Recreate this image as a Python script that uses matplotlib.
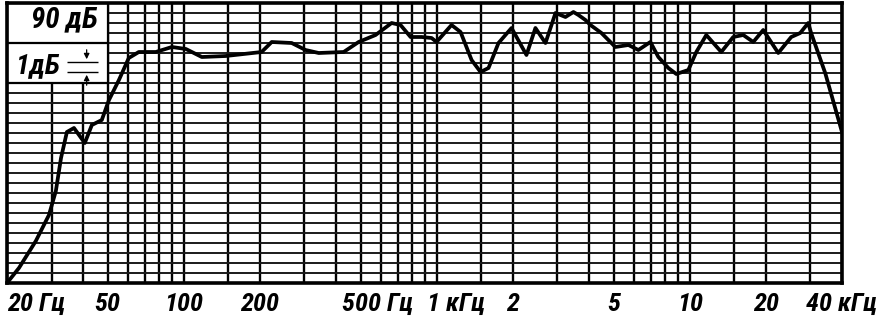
import numpy as np
import matplotlib
matplotlib.use("Agg")
import matplotlib.pyplot as plt
from matplotlib.patches import Rectangle

freq_hz = [20, 22.3, 26.0, 29.3, 31.2, 32.7, 34.5, 36.8, 40.6, 43.3, 47.4, 50.6,
           55.4, 60.6, 66.4, 77.5, 89.7, 101.9, 117.8, 146.5, 203, 222.6, 267,
           303, 341.5, 428.5, 491, 573, 663, 719, 788, 871, 954, 998, 1144, 1242,
           1373, 1490, 1602, 1754, 1975, 2263, 2455, 2690, 2947, 3227, 3470,
           3631, 3870, 4051, 4477, 5082, 5723, 6267, 6990, 7516, 8233, 8851,
           9874, 10620, 11630, 13330, 14860, 16280, 17840, 19530, 22390, 25200,
           27350, 29410, 30200, 34330, 40000]
level_db = [62.0, 63.5, 66.2, 68.8, 71.2, 74.5, 77.1, 77.5, 76.0, 77.8, 78.3, 80.3,
            82.3, 84.5, 85.1, 85.1, 85.6, 85.4, 84.6, 84.7, 85.1, 86.1, 86.0,
            85.3, 85.0, 85.1, 86.1, 86.8, 88.0, 87.8, 86.6, 86.6, 86.5, 86.1, 87.8, 87.1,
            84.3, 83.1, 83.5, 86.0, 87.5, 84.8, 87.5, 86.0, 89.0, 88.6, 89.1,
            88.8, 88.3, 87.8, 87.0, 85.6, 85.8, 85.3, 86.1, 84.6, 83.5, 82.9,
            83.3, 85.1, 86.8, 85.1, 86.6, 86.8, 86.1, 87.3, 85.0, 86.6,
            87.0, 88.0, 87.0, 83.0, 77.1]

# сетка бумаги
grid_freqs = [20, 30, 40, 50, 60, 70, 80, 90, 100, 150, 200, 300, 400, 500, 600,
              700, 800, 900, 1000, 1500, 2000, 3000, 4000, 5000, 6000, 7000,
              8000, 9000, 10000, 15000, 20000, 30000, 40000]
grid_db = list(range(62, 91))

label_freqs = [20, 50, 100, 200, 500, 1000, 2000, 5000, 10000, 20000, 40000]
label_texts = ["20 Гц", "50", "100", "200", "500 Гц", "1 кГц", "2", "5", "10", "20", "40 кГц"]

font = ["Roboto Condensed", "Liberation Sans Narrow", "DejaVu Sans Condensed", "Roboto", "DejaVu Sans"]
txt = dict(style="italic", family=font, stretch="condensed", weight="bold")

fig = plt.figure(figsize=(8.82, 3.36), dpi=100)
ax = fig.add_axes([7 / 882, 53 / 336, 835 / 882, 280 / 336])
ax.set_xscale("log")
ax.set_xlim(20, 40000)
ax.set_ylim(62, 90)

ax.set_xticks(grid_freqs)
ax.set_xticks([], minor=True)
ax.set_yticks(grid_db)
ax.set_xticklabels([])
ax.set_yticklabels([])
ax.tick_params(length=0, which="both")
ax.grid(True, which="major", axis="x", color="black", lw=1.7)
ax.grid(True, which="major", axis="y", color="#1a1a1a", lw=1.4)
for s in ax.spines.values():
    s.set_linewidth(2.6)

ax.plot(freq_hz, level_db, color="black", lw=2.7, solid_joinstyle="round", zorder=3)

# табличка с масштабом
ax.add_patch(Rectangle((20, 82), 30, 8, facecolor="white", edgecolor="black", lw=1.6, zorder=2))
ax.hlines(86, 20, 50, color="black", lw=1.6, zorder=2.1)
ax.text(45.5, 88.4, "90 дБ", ha="right", va="center", fontsize=21, zorder=4, **txt)
ax.text(21.8, 83.7, "1дБ", ha="left", va="center", fontsize=20, zorder=4, **txt)
ax.hlines([84.1, 83.1], 34.5, 46, color="black", lw=1.0, zorder=2.1)
ax.annotate("", xy=(41.3, 84.1), xytext=(41.3, 85.6),
            arrowprops=dict(arrowstyle="-|>", lw=0.9, color="black", mutation_scale=8), zorder=4)
ax.annotate("", xy=(41.3, 83.1), xytext=(41.3, 81.5),
            arrowprops=dict(arrowstyle="-|>", lw=0.9, color="black", mutation_scale=8), zorder=4)

# подписи частот
for f, t in zip(label_freqs, label_texts):
    ha, dx = "center", 0
    if t == "20 Гц":
        ha = "left"
    elif t == "500 Гц":
        ha, dx = "left", -19
    elif t == "1 кГц":
        ha, dx = "left", -10
    ax.annotate(t, xy=(f, 0), xycoords=("data", "axes fraction"), xytext=(dx, -21),
                textcoords="offset pixels", ha=ha, va="center", fontsize=19,
                annotation_clip=False, **txt)

fig.savefig("out.png", dpi=100)
